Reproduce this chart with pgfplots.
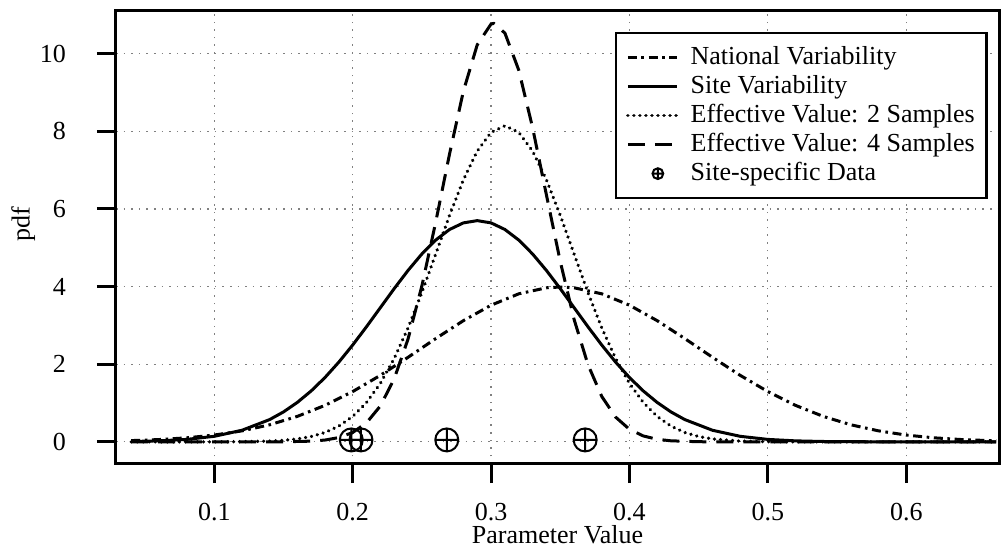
\documentclass[border=0pt]{standalone}
\usepackage{fontspec}
\setmainfont{Liberation Serif}
\usepackage{pgfplots}
\pgfplotsset{compat=1.18}

\pgfplotsset{
  lg/.style={legend image code/.code={\draw[##1] (0pt,0pt) -- (24.5pt,0pt);}},
  mk/.style={legend image code/.code={\draw[##1, mark size=2.7pt] plot coordinates {(15pt,0pt)};}},
}

\begin{document}
\fontsize{13}{15}\selectfont
\begin{tikzpicture}
\begin{axis}[
    scale only axis,
    width=441.5pt, height=226.5pt,
    xmin=0.029, xmax=0.667,
    ymin=-0.57, ymax=11.1,
    xtick={0.1,0.2,0.3,0.4,0.5,0.6},
    ytick={0,2,4,6,8,10},
    tick align=outside,
    xtick pos=left, ytick pos=left,
    tickwidth=9.5pt,
    tick style={line width=1.5pt, black},
    axis line style={line width=1.5pt},
    xticklabel style={/pgf/number format/fixed, /pgf/number format/precision=1,
        anchor=north, yshift=-5.5pt},
    yticklabel style={anchor=east, xshift=-11pt},
    grid=major,
    grid style={gray, line width=0.6pt, dash pattern=on 0.8pt off 3pt},
    xlabel={Parameter Value},
    ylabel={pdf},
    xlabel style={at={(axis description cs:0.5,-0.157)}, anchor=center},
    ylabel style={at={(axis description cs:-0.105,0.53)}, anchor=center},
    legend cell align=left,
    legend style={at={(0.9875,0.954)}, anchor=north east, draw=black,
        line width=1.3pt, inner sep=5pt,
        nodes={inner sep=1pt, text height=9.5pt, text depth=3pt},
        /tikz/every odd column/.append style={column sep=5pt}},
    /pgf/number format/assume math mode=true,
]
\coordinate (SW) at (rel axis cs:0,0);
\coordinate (NE) at (rel axis cs:1,1);

% National Variability
\addplot[lg, black, line width=1.5pt, dash pattern=on 4.5pt off 2.3pt on 1.3pt off 2.3pt] coordinates {
(0.04,0.0326) (0.06,0.0595) (0.08,0.1042) (0.10,0.1753) (0.12,0.2833)
(0.14,0.4398) (0.16,0.6562) (0.18,0.9405) (0.20,1.2952) (0.22,1.7137)
(0.24,2.1785) (0.26,2.6609) (0.28,3.1225) (0.30,3.5207) (0.32,3.8139)
(0.34,3.9695) (0.35,3.9894) (0.36,3.9695) (0.38,3.8139) (0.40,3.5207)
(0.42,3.1225) (0.44,2.6609) (0.46,2.1785) (0.48,1.7137) (0.50,1.2952)
(0.52,0.9405) (0.54,0.6562) (0.56,0.4398) (0.58,0.2833) (0.60,0.1753)
(0.62,0.1042) (0.64,0.0595) (0.66,0.0326) (0.665,0.028)
};
\addlegendentry{National Variability}

% Site Variability
\addplot[lg, black, line width=1.5pt] coordinates {
(0.04,0.0097) (0.06,0.0258) (0.08,0.0633) (0.10,0.1432) (0.12,0.2986)
(0.14,0.5740) (0.15,0.7713) (0.16,1.0163) (0.17,1.3115) (0.18,1.6577)
(0.19,2.0539) (0.20,2.4940) (0.21,2.9665) (0.22,3.4567) (0.23,3.9473)
(0.24,4.4158) (0.25,4.8404) (0.26,5.1993) (0.27,5.4712) (0.28,5.6414)
(0.29,5.6992) (0.30,5.6414) (0.31,5.4712) (0.32,5.1993) (0.33,4.8404)
(0.34,4.4158) (0.35,3.9473) (0.36,3.4567) (0.37,2.9665) (0.38,2.4940)
(0.39,2.0539) (0.40,1.6577) (0.41,1.3115) (0.42,1.0163) (0.43,0.7713)
(0.44,0.5740) (0.46,0.2986) (0.48,0.1432) (0.50,0.0633) (0.52,0.0258)
(0.54,0.0097) (0.58,0.0010) (0.665,0)
};
\addlegendentry{Site Variability}

% Effective Value: 2 Samples
\addplot[lg, black, line width=1.8pt, line cap=round, dash pattern=on 0.01pt off 3pt] coordinates {
(0.04,0) (0.10,0.0008) (0.12,0.0044) (0.14,0.0198) (0.15,0.0394)
(0.16,0.0751) (0.17,0.1373) (0.18,0.2410) (0.19,0.4058) (0.20,0.6551)
(0.21,1.0145) (0.22,1.5063) (0.23,2.1471) (0.24,2.9344) (0.25,3.8471)
(0.26,4.8380) (0.27,5.8346) (0.28,6.7505) (0.29,7.4915) (0.30,7.9742)
(0.31,8.1420) (0.32,7.9742) (0.33,7.4915) (0.34,6.7505) (0.35,5.8346)
(0.36,4.8380) (0.37,3.8471) (0.38,2.9344) (0.39,2.1471) (0.40,1.5063)
(0.41,1.0145) (0.42,0.6551) (0.43,0.4058) (0.44,0.2410) (0.45,0.1373)
(0.46,0.0751) (0.48,0.0198) (0.50,0.0044) (0.52,0.0008) (0.665,0)
};
\addlegendentry{Effective Value: 2 Samples}

% Effective Value: 4 Samples
\addplot[lg, black, line width=1.5pt, dash pattern=on 8.5pt off 5pt] coordinates {
(0.04,0) (0.15,0.0023) (0.17,0.0186) (0.18,0.0470) (0.19,0.1104)
(0.20,0.2412) (0.21,0.4901) (0.22,0.9247) (0.23,1.6235) (0.24,2.6476)
(0.25,4.0156) (0.26,5.6595) (0.27,7.4166) (0.28,9.0336) (0.29,10.228)
(0.30,10.764) (0.302,10.78) (0.31,10.531) (0.32,9.577) (0.33,8.096)
(0.34,6.361) (0.35,4.647) (0.36,3.154) (0.37,1.991) (0.38,1.1686)
(0.39,0.6375) (0.40,0.3230) (0.41,0.1522) (0.42,0.0667) (0.43,0.0272)
(0.45,0.0036) (0.47,0) (0.665,0)
};
\addlegendentry{Effective Value: 4 Samples}

% Site-specific Data
\addplot[mk, only marks, black, mark=oplus, mark size=5.75pt, mark options={line width=1pt}]
    coordinates {(0.199,0.05) (0.206,0.05) (0.268,0.05) (0.368,0.05)};
\addlegendentry{Site-specific Data}
\end{axis}
\pgfresetboundingbox
\path[use as bounding box] ([xshift=-58pt,yshift=-43pt]SW) rectangle ([xshift=1pt,yshift=5.5pt]NE);
\end{tikzpicture}
\end{document}
